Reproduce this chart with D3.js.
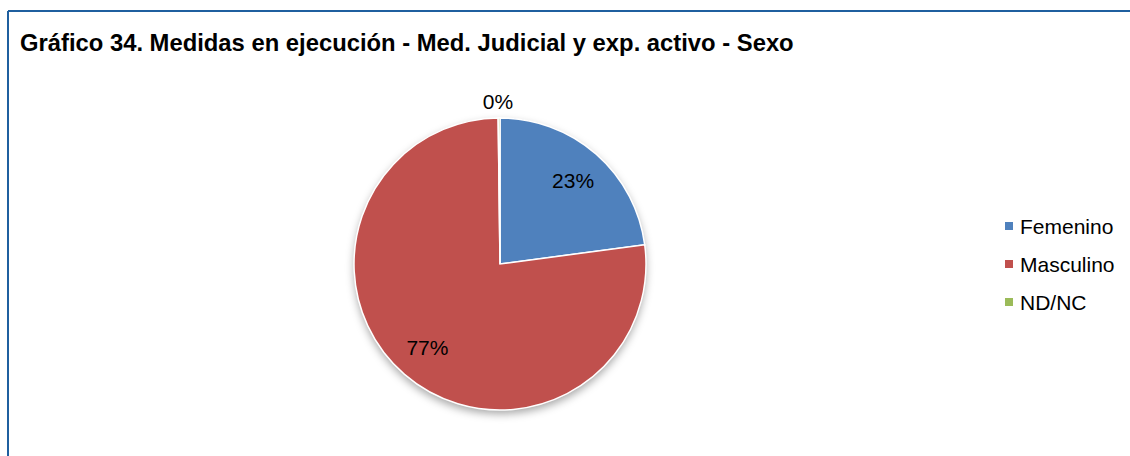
<!DOCTYPE html>
<html>
<head>
<meta charset="utf-8">
<script src="https://cdn.jsdelivr.net/npm/d3@7"></script>
<style>
  body { margin: 0; background: #fff; }
  svg { display: block; font-family: "Liberation Sans", Arial, sans-serif; }
</style>
</head>
<body>
<svg id="chart" width="1130" height="456"></svg>
<script>
// values
var categories = ["Femenino", "Masculino", "ND/NC"];
var values = [22.9, 76.9, 0.2];
var labels = ["23%", "77%", "0%"];
var colors = ["#4f81bd", "#c0504d", "#9bbb59"];

var svg = d3.select("#chart");
var width = 1130, height = 456;

// frame: only top and left edge show
svg.append("line").attr("x1", 8).attr("y1", 11).attr("x2", width).attr("y2", 11)
    .attr("stroke", "#1f5f9f").attr("stroke-width", 2);
svg.append("line").attr("x1", 8).attr("y1", 11).attr("x2", 8).attr("y2", height)
    .attr("stroke", "#1f5f9f").attr("stroke-width", 2);

svg.append("text")
    .attr("x", 20).attr("y", 51)
    .attr("font-size", "23.8px").attr("font-weight", "bold")
    .text("Gráfico 34. Medidas en ejecución - Med. Judicial y exp. activo - Sexo");

var defs = svg.append("defs");
var f = defs.append("filter").attr("id", "shadow")
    .attr("x", "-20%").attr("y", "-20%").attr("width", "140%").attr("height", "140%");
f.append("feDropShadow").attr("dx", 0).attr("dy", 4).attr("stdDeviation", 4)
    .attr("flood-color", "#000").attr("flood-opacity", 0.35);

var cx = 500, cy = 264, r = 146;

var pie = d3.pie().sort(null).value(d => d.v);
var data = pie(categories.map((c, i) => ({ c: c, v: values[i], l: labels[i], col: colors[i] })));
var arc = d3.arc().innerRadius(0).outerRadius(r);

var g = svg.append("g").attr("transform", "translate(" + cx + "," + cy + ")");

g.append("circle").attr("r", r).attr("fill", "#c0504d").attr("filter", "url(#shadow)");

g.selectAll("path.slice")
    .data(data)
    .enter().append("path")
    .attr("class", "slice")
    .attr("d", arc)
    .attr("fill", d => d.data.col)
    .attr("stroke", "#fff")
    .attr("stroke-width", 1.5);

// label positions
var inner = d3.arc().innerRadius(r * 0.76).outerRadius(r * 0.76);
g.selectAll("text.lbl")
    .data(data)
    .enter().append("text")
    .attr("class", "lbl")
    .attr("transform", function (d) {
        if (d.data.v < 1) return "translate(-2," + (-r - 16) + ")";
        var p = inner.centroid(d);
        return "translate(" + p[0] + "," + p[1] + ")";
    })
    .attr("text-anchor", "middle")
    .attr("dy", "0.35em")
    .attr("font-size", "21px")
    .attr("fill", "#000")
    .text(d => d.data.l);

// legend
var ly = d3.scalePoint().domain(categories).range([226, 302]);
var leg = svg.selectAll("g.leg")
    .data(categories)
    .enter().append("g")
    .attr("class", "leg")
    .attr("transform", d => "translate(1005," + ly(d) + ")");
leg.append("rect").attr("x", 0).attr("y", -4).attr("width", 8).attr("height", 8)
    .attr("fill", (d, i) => colors[i]);
leg.append("text").attr("x", 15).attr("dy", "0.36em")
    .attr("font-size", "21px").text(d => d);
</script>
</body>
</html>
